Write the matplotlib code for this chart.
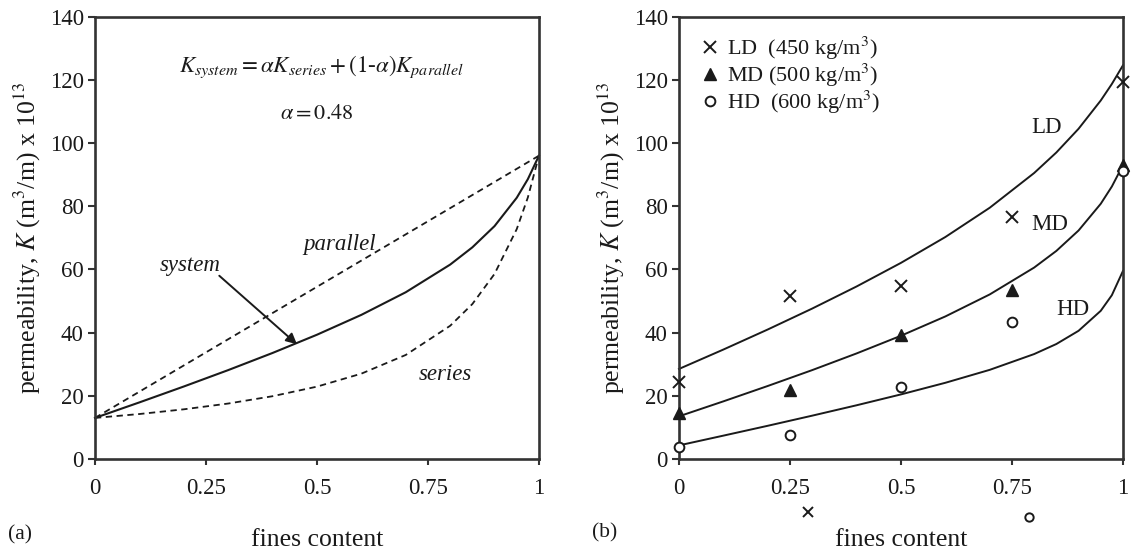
import matplotlib
matplotlib.use('Agg')
import matplotlib.pyplot as plt

plt.rcParams['font.family'] = 'Liberation Serif'
plt.rcParams['mathtext.fontset'] = 'stix'

ink = '#1a1a1a'
spine_col = '#333333'
tick_size = 16.5
label_size = 18.5
note_size = 16.5

# fines content grid used for the model curves
fines = [0, 0.1, 0.2, 0.3, 0.4, 0.5, 0.6, 0.7, 0.8, 0.85, 0.9, 0.95, 0.975, 1.0]

# (a) bounds and system model
k_series = [13.0, 14.23, 15.72, 17.55, 19.87, 22.90, 27.01, 32.93, 42.16, 49.04,
            58.59, 72.77, 82.78, 96.0]
k_parallel = [13.0, 21.3, 29.6, 37.9, 46.2, 54.5, 62.8, 71.1, 79.4, 83.55,
              87.7, 91.85, 93.93, 96.0]
k_system = [13.0, 17.91, 22.94, 28.13, 33.56, 39.33, 45.62, 52.78, 61.53, 66.99,
            73.72, 82.69, 88.57, 96.0]

# (b) model curves for the three densities
ld_fit = [28.5, 34.64, 40.99, 47.61, 54.60, 62.08, 70.26, 79.53, 90.52, 97.02,
          104.52, 113.47, 118.7, 124.6]
md_fit = [13.5, 18.24, 23.11, 28.13, 33.41, 39.01, 45.12, 52.09, 60.59, 65.86,
          72.32, 80.78, 86.24, 93.0]
hd_fit = [4.3, 7.39, 10.51, 13.71, 17.00, 20.44, 24.12, 28.22, 33.21, 36.39,
          40.57, 46.90, 51.84, 59.5]

# (b) measured permeability
fines_meas = [0, 0.25, 0.5, 0.75, 1.0]
ld_meas = [24.5, 51.5, 54.9, 76.5, 119.4]
md_meas = [14.5, 21.9, 39.2, 53.4, 93.0]
hd_meas = [3.7, 7.6, 22.8, 43.4, 91.0]

# loose symbols sitting under the (b) axis
stray_x = ([0.29], [-16.8])
stray_o = ([0.788], [-18.4])

xticks = [0, 0.25, 0.5, 0.75, 1]
xticklabels = ['0', '0.25', '0.5', '0.75', '1']
yticks = [0, 20, 40, 60, 80, 100, 120, 140]
ylab = r'permeability, $K$ (m$^3$/m) x 10$^{13}$'

fig = plt.figure(figsize=(11.32, 5.51), dpi=100)
ax1 = fig.add_axes([0.0839, 0.167, 0.3922, 0.8027])
ax2 = fig.add_axes([0.5998, 0.167, 0.3922, 0.8027])

for ax in (ax1, ax2):
    ax.set_xlim(0, 1)
    ax.set_ylim(0, 140)
    ax.set_xticks(xticks)
    ax.set_xticklabels(xticklabels)
    ax.set_yticks(yticks)
    for s in ax.spines.values():
        s.set_linewidth(1.9)
        s.set_color(spine_col)
    ax.tick_params(axis='both', direction='out', colors=spine_col,
                   labelcolor=ink, labelsize=tick_size, width=1.5)
    ax.tick_params(axis='y', length=5, pad=3)
    ax.tick_params(axis='x', length=4, pad=10)
    ax.set_xlabel('fines content', fontsize=label_size, color=ink, labelpad=21)
    ax.set_ylabel(ylab, fontsize=label_size, color=ink, labelpad=5)

# ---------------- (a) ----------------
ax1.plot(fines, k_parallel, color=ink, lw=1.3, ls=(0, (3.5, 2.5)), clip_on=False)
ax1.plot(fines, k_series, color=ink, lw=1.3, ls=(0, (3.5, 2.5)), clip_on=False)
ax1.plot(fines, k_system, color=ink, lw=1.5, clip_on=False)

ax1.text(0.51, 124, r'$K_{system} = \alpha K_{series} + (\mathit{1}$-$\alpha)K_{parallel}$',
         ha='center', va='center', fontsize=16.5, color=ink)
ax1.text(0.5, 109, r'$\alpha = 0.48$', ha='center', va='center', fontsize=16, color=ink)
ax1.text(0.55, 67.8, 'parallel', style='italic', ha='center', va='center',
         fontsize=note_size, color=ink)
ax1.text(0.79, 26.6, 'series', style='italic', ha='center', va='center',
         fontsize=note_size, color=ink)
ax1.text(0.215, 61.4, 'system', style='italic', ha='center', va='center',
         fontsize=note_size, color=ink)
ax1.annotate('', xy=(0.455, 36.3), xytext=(0.28, 58.0),
             arrowprops=dict(arrowstyle='-|>', color=ink, lw=1.4,
                             mutation_scale=16, shrinkA=0, shrinkB=0))

# ---------------- (b) ----------------
for fit in (ld_fit, md_fit, hd_fit):
    ax2.plot(fines, fit, color=ink, lw=1.4, clip_on=False)

ax2.plot(fines_meas, ld_meas, ls='none', marker='x', ms=8, mew=1.4, color=ink,
         clip_on=False, zorder=4, label=r'LD  (450 kg/m$^3$)')
ax2.plot(fines_meas, md_meas, ls='none', marker='^', ms=8, color=ink,
         clip_on=False, zorder=4, label=r'MD (500 kg/m$^3$)')
ax2.plot(fines_meas, hd_meas, ls='none', marker='o', ms=7, mew=1.4, mfc='white',
         mec=ink, clip_on=False, zorder=5, label=r'HD  (600 kg/m$^3$)')

ax2.plot(*stray_x, ls='none', marker='x', ms=7, mew=1.4, color=ink, clip_on=False)
ax2.plot(*stray_o, ls='none', marker='o', ms=6, mew=1.4, mfc='white', mec=ink,
         clip_on=False)

ax2.text(0.827, 104.8, 'LD', ha='center', va='center', fontsize=note_size, color=ink)
ax2.text(0.836, 74.1, 'MD', ha='center', va='center', fontsize=note_size, color=ink)
ax2.text(0.887, 47.2, 'HD', ha='center', va='center', fontsize=note_size, color=ink)

leg = ax2.legend(loc='upper left', bbox_to_anchor=(0.02, 0.99), frameon=False,
                 fontsize=16, handlelength=0.8, handletextpad=0.35,
                 labelspacing=0.0, borderaxespad=0.2)
for t in leg.get_texts():
    t.set_color(ink)

fig.text(20 / 1132, 1 - 535 / 551, '(a)', ha='center', va='center',
         fontsize=15.5, color=ink)
fig.text(605 / 1132, 1 - 533 / 551, '(b)', ha='center', va='center',
         fontsize=15.5, color=ink)

fig.savefig('out.png', dpi=100)
